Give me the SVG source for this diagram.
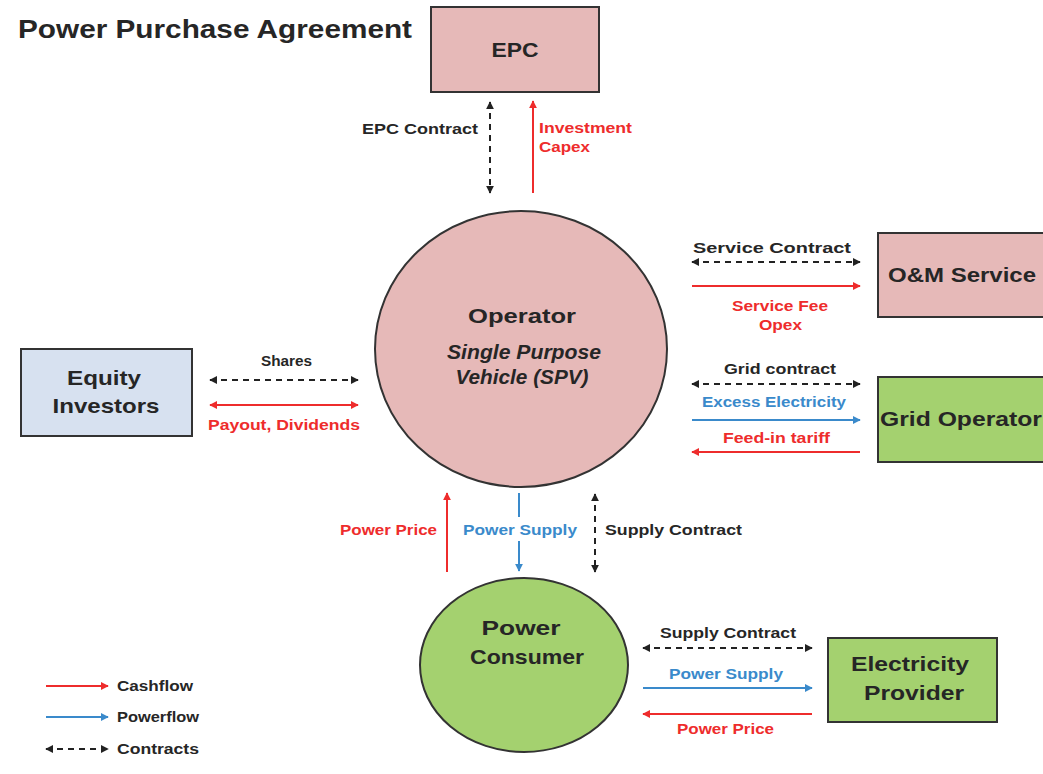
<svg xmlns="http://www.w3.org/2000/svg" width="1043" height="774" viewBox="0 0 1043 774">
<style>
.box{stroke:#333;stroke-width:2}
.pink{fill:#e6b9b8}
.green{fill:#a4d16f}
.blue{fill:#d7e1f0}
.nt{font-family:"Liberation Sans",Arial,sans-serif;font-weight:bold;font-size:21px;fill:#262626;text-anchor:middle}
.lb{font-family:"Liberation Sans",Arial,sans-serif;font-weight:bold;font-size:14px;text-anchor:middle}
.k{fill:#262626}.r{fill:#ee2c2c}.b{fill:#3a8acb}
.cash{stroke:#ee2c2c;stroke-width:2;fill:none}
.pow{stroke:#3a8acb;stroke-width:2;fill:none}
.con{stroke:#222;stroke-width:2;fill:none;stroke-dasharray:6 5}
</style>
<defs>
<marker id="ar" viewBox="0 0 10 10" refX="9" refY="5" markerWidth="4" markerHeight="4" orient="auto-start-reverse"><path d="M0,0L10,5L0,10z" fill="#ee2c2c"/></marker>
<marker id="ab" viewBox="0 0 10 10" refX="9" refY="5" markerWidth="4" markerHeight="4" orient="auto-start-reverse"><path d="M0,0L10,5L0,10z" fill="#3a8acb"/></marker>
<marker id="ak" viewBox="0 0 10 10" refX="9" refY="5" markerWidth="4" markerHeight="4" orient="auto-start-reverse"><path d="M0,0L10,5L0,10z" fill="#222"/></marker>
</defs>
<rect width="1043" height="774" fill="#fff"/>
<text x="18" y="38" font-family="Liberation Sans,Arial,sans-serif" font-weight="bold" font-size="25" fill="#262626" textLength="394" lengthAdjust="spacingAndGlyphs">Power Purchase Agreement</text>

<g id="epc"><rect class="box pink" x="431" y="7" width="168" height="85"/><text class="nt" x="515" y="57" textLength="47" lengthAdjust="spacingAndGlyphs">EPC</text></g>
<g id="operator"><ellipse class="box pink" cx="521" cy="349" rx="146" ry="138"/>
<text class="nt" x="522" y="323" textLength="108" lengthAdjust="spacingAndGlyphs">Operator</text>
<text class="nt" x="524" y="359" font-style="italic" font-size="19" textLength="154" lengthAdjust="spacingAndGlyphs">Single Purpose</text>
<text class="nt" x="522" y="384" font-style="italic" font-size="19" textLength="133" lengthAdjust="spacingAndGlyphs">Vehicle (SPV)</text></g>
<g id="om"><rect class="box pink" x="878" y="233" width="175" height="84"/><text class="nt" x="962" y="282" textLength="148" lengthAdjust="spacingAndGlyphs">O&amp;M Service</text></g>
<g id="grid"><rect class="box green" x="878" y="377" width="175" height="85"/><text class="nt" x="961" y="426" textLength="162" lengthAdjust="spacingAndGlyphs">Grid Operator</text></g>
<g id="equity"><rect class="box blue" x="21" y="349" width="171" height="87"/><text class="nt" x="104" y="385" textLength="74" lengthAdjust="spacingAndGlyphs">Equity</text><text class="nt" x="106" y="413" textLength="107" lengthAdjust="spacingAndGlyphs">Investors</text></g>
<g id="consumer"><ellipse class="box green" cx="524" cy="665" rx="104" ry="87"/><text class="nt" x="521" y="635" textLength="79" lengthAdjust="spacingAndGlyphs">Power</text><text class="nt" x="527" y="664" textLength="114" lengthAdjust="spacingAndGlyphs">Consumer</text></g>
<g id="provider"><rect class="box green" x="828" y="638" width="169" height="84"/><text class="nt" x="910" y="671" textLength="118" lengthAdjust="spacingAndGlyphs">Electricity</text><text class="nt" x="914" y="700" textLength="100" lengthAdjust="spacingAndGlyphs">Provider</text></g>

<g id="connectors">
<line class="con" x1="490" y1="102" x2="490" y2="193" marker-start="url(#ak)" marker-end="url(#ak)"/>
<line class="cash" x1="533" y1="193" x2="533" y2="101" marker-end="url(#ar)"/>
<line class="con" x1="692" y1="262" x2="860" y2="262" marker-start="url(#ak)" marker-end="url(#ak)"/>
<line class="cash" x1="692" y1="286" x2="860" y2="286" marker-end="url(#ar)"/>
<line class="con" x1="692" y1="384" x2="860" y2="384" marker-start="url(#ak)" marker-end="url(#ak)"/>
<line class="pow" x1="692" y1="420" x2="860" y2="420" marker-end="url(#ab)"/>
<line class="cash" x1="860" y1="452" x2="692" y2="452" marker-end="url(#ar)"/>
<line class="con" x1="210" y1="380" x2="358" y2="380" marker-start="url(#ak)" marker-end="url(#ak)"/>
<line class="cash" x1="210" y1="405" x2="358" y2="405" marker-start="url(#ar)" marker-end="url(#ar)"/>
<line class="cash" x1="447" y1="572" x2="447" y2="493" marker-end="url(#ar)"/>
<line class="pow" x1="519" y1="493" x2="519" y2="517"/>
<line class="pow" x1="519" y1="541" x2="519" y2="571" marker-end="url(#ab)"/>
<line class="con" x1="595" y1="494" x2="595" y2="572" marker-start="url(#ak)" marker-end="url(#ak)"/>
<line class="con" x1="643" y1="648" x2="812" y2="648" marker-start="url(#ak)" marker-end="url(#ak)"/>
<line class="pow" x1="643" y1="688" x2="812" y2="688" marker-end="url(#ab)"/>
<line class="cash" x1="812" y1="714" x2="643" y2="714" marker-end="url(#ar)"/>
<line class="cash" x1="46" y1="686" x2="108" y2="686" marker-end="url(#ar)"/>
<line class="pow" x1="46" y1="717" x2="108" y2="717" marker-end="url(#ab)"/>
<line class="con" x1="46" y1="749" x2="108" y2="749" marker-start="url(#ak)" marker-end="url(#ak)" stroke-dasharray="6 6"/>
</g>

<g id="labels">
<text class="lb k" x="362" y="134" style="text-anchor:start" textLength="116" lengthAdjust="spacingAndGlyphs">EPC Contract</text>
<text class="lb r" x="539" y="133" style="text-anchor:start" textLength="93" lengthAdjust="spacingAndGlyphs">Investment</text>
<text class="lb r" x="539" y="152" style="text-anchor:start" textLength="51" lengthAdjust="spacingAndGlyphs">Capex</text>
<text class="lb k" x="693" y="253" style="text-anchor:start" textLength="158" lengthAdjust="spacingAndGlyphs">Service Contract</text>
<text class="lb r" x="732" y="311" style="text-anchor:start" textLength="96" lengthAdjust="spacingAndGlyphs">Service Fee</text>
<text class="lb r" x="759" y="330" style="text-anchor:start" textLength="43" lengthAdjust="spacingAndGlyphs">Opex</text>
<text class="lb k" x="724" y="374" style="text-anchor:start" textLength="112" lengthAdjust="spacingAndGlyphs">Grid contract</text>
<text class="lb b" x="702" y="407" style="text-anchor:start" textLength="144" lengthAdjust="spacingAndGlyphs">Excess Electricity</text>
<text class="lb r" x="723" y="443" style="text-anchor:start" textLength="107" lengthAdjust="spacingAndGlyphs">Feed-in tariff</text>
<text class="lb k" x="261" y="366" style="text-anchor:start" textLength="51" lengthAdjust="spacingAndGlyphs">Shares</text>
<text class="lb r" x="208" y="430" style="text-anchor:start" textLength="152" lengthAdjust="spacingAndGlyphs">Payout, Dividends</text>
<text class="lb r" x="340" y="535" style="text-anchor:start" textLength="97" lengthAdjust="spacingAndGlyphs">Power Price</text>
<text class="lb b" x="463" y="535" style="text-anchor:start" textLength="114" lengthAdjust="spacingAndGlyphs">Power Supply</text>
<text class="lb k" x="605" y="535" style="text-anchor:start" textLength="137" lengthAdjust="spacingAndGlyphs">Supply Contract</text>
<text class="lb k" x="660" y="638" style="text-anchor:start" textLength="136" lengthAdjust="spacingAndGlyphs">Supply Contract</text>
<text class="lb b" x="669" y="679" style="text-anchor:start" textLength="114" lengthAdjust="spacingAndGlyphs">Power Supply</text>
<text class="lb r" x="677" y="734" style="text-anchor:start" textLength="97" lengthAdjust="spacingAndGlyphs">Power Price</text>
<text class="lb k" x="117" y="691" style="text-anchor:start" textLength="76" lengthAdjust="spacingAndGlyphs">Cashflow</text>
<text class="lb k" x="117" y="722" style="text-anchor:start" textLength="82" lengthAdjust="spacingAndGlyphs">Powerflow</text>
<text class="lb k" x="117" y="754" style="text-anchor:start" textLength="82" lengthAdjust="spacingAndGlyphs">Contracts</text>
</g>
</svg>
